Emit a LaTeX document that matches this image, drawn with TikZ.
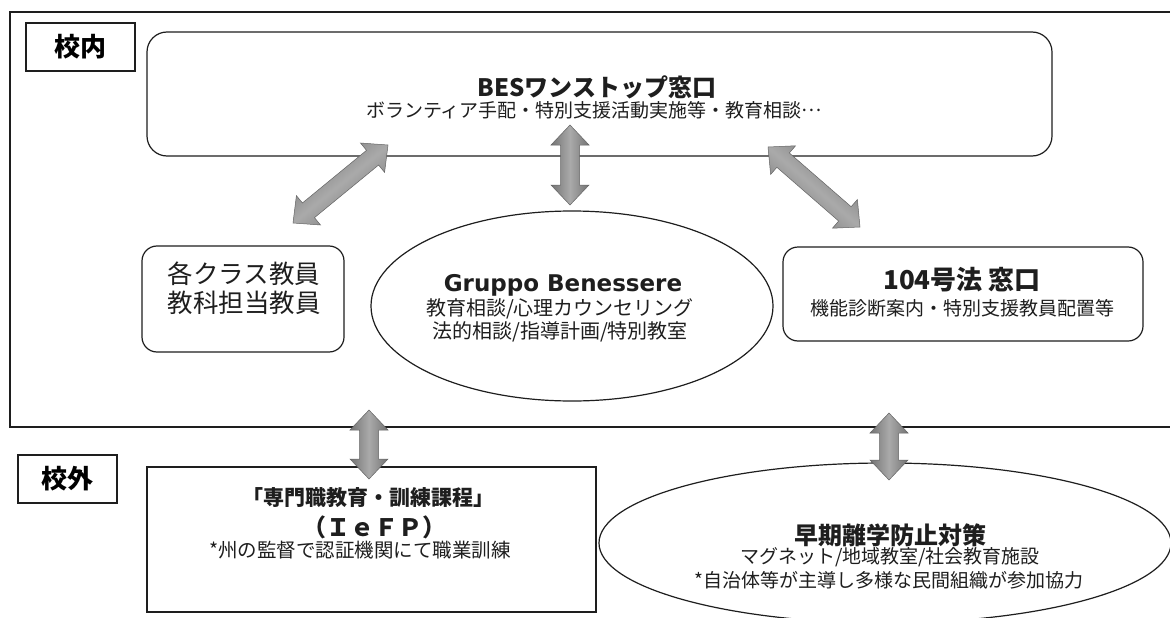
\documentclass[tikz,border=0pt]{standalone}
\usepackage{fontspec}
\setmainfont{Noto Sans CJK JP}
\newfontfamily\latinfont{DejaVu Sans}
\usetikzlibrary{calc,shapes.geometric}
\definecolor{arredge}{RGB}{115,115,115}
\definecolor{arrmid}{RGB}{170,170,170}
\definecolor{arrline}{RGB}{100,100,100}
\definecolor{ink}{RGB}{30,30,30}
\newcommand\dblarrow[3]{%
  \path[arrowshade, shading angle=#3]
    (#1) -- ($(#1)!20pt!(#2)!19pt!90:(#2)$) -- ($(#1)!20pt!(#2)!9.5pt!90:(#2)$)
    -- ($(#2)!20pt!(#1)!9.5pt!-90:(#1)$) -- ($(#2)!20pt!(#1)!19pt!-90:(#1)$)
    -- (#2) -- ($(#2)!20pt!(#1)!19pt!90:(#1)$) -- ($(#2)!20pt!(#1)!9.5pt!90:(#1)$)
    -- ($(#1)!20pt!(#2)!9.5pt!-90:(#2)$) -- ($(#1)!20pt!(#2)!19pt!-90:(#2)$) -- cycle;}
\begin{document}
\begin{tikzpicture}[x=1pt,y=-1pt,
  frameline/.style={draw=ink, line width=1.5pt},
  tagbox/.style={draw=ink, line width=1.4pt, rectangle, inner sep=0pt,
    font=\fontsize{26}{30}\selectfont\bfseries},
  rbox/.style={draw=ink, line width=1.2pt, rectangle, inner sep=0pt},
  sqbox/.style={draw=ink, line width=1.2pt, rectangle, inner sep=0pt},
  oval/.style={draw=ink, line width=1.2pt, ellipse, inner sep=0pt},
  txt/.style={inner sep=0pt, align=center, text=ink},
  arrowshade/.style={draw=arrline, line width=0.5pt, left color=arredge,
    right color=arredge, middle color=arrmid}]
\useasboundingbox (0,0) rectangle (1170,618);
\fill[white] (0,0) rectangle (1170,618);
% school-inside frame (cut off at the right edge)
\draw[frameline] (1190,12) -- (10,12) -- (10,427) -- (1190,427);

% tag boxes
\node[tagbox, minimum width=109pt, minimum height=48pt] (naibu) at (80.5,47) {校内};
\node[tagbox, minimum width=99pt, minimum height=48pt] (gaibu) at (67.5,479) {校外};

% BES one-stop
\node[rbox, rounded corners=20pt, minimum width=905pt, minimum height=124pt] (bes) at (599.5,94) {};
\node[txt, font=\fontsize{24}{28}\selectfont\bfseries] (bestitle) at (597,87) {BESワンストップ窓口};
\node[txt, font=\fontsize{19}{22}\selectfont] (bessub) at (594,110) {ボランティア手配・特別支援活動実施等・教育相談\raisebox{0.3em}{…}};

% class teachers
\node[rbox, rounded corners=15pt, minimum width=202pt, minimum height=106pt] (klass) at (243,299) {};
\node[txt, font=\fontsize{25.5}{29}\selectfont] (klass1) at (244,274) {各クラス教員};
\node[txt, font=\fontsize{25.5}{29}\selectfont] (klass2) at (244,303) {教科担当教員};

% Gruppo Benessere
\node[oval, minimum width=402pt, minimum height=190pt] (gruppo) at (572,306) {};
\node[txt, font=\fontsize{23}{27}\selectfont\latinfont\bfseries] (gruppot) at (563,285) {Gruppo Benessere};
\node[txt, font=\fontsize{20}{23}\selectfont] (gruppo1) at (560,309) {教育相談/心理カウンセリング};
\node[txt, font=\fontsize{20}{23}\selectfont] (gruppo2) at (560,332) {法的相談/指導計画/特別教室};

% Law 104 desk
\node[rbox, rounded corners=15pt, minimum width=360pt, minimum height=94pt] (law) at (963,294) {};
\node[txt, font=\fontsize{26}{30}\selectfont\bfseries] (lawt) at (962,280) {104号法 窓口};
\node[txt, font=\fontsize{19}{22}\selectfont] (laws) at (962,308) {機能診断案内・特別支援教員配置等};

% IeFP
\node[sqbox, minimum width=449pt, minimum height=145pt] (iefp) at (371.5,539.5) {};
\node[txt, font=\fontsize{21}{25}\selectfont\bfseries] (iefp1) at (368,498) {「専門職教育・訓練課程」};
\node[txt, font=\fontsize{24}{28}\selectfont\bfseries] (iefp2) at (374,527) {（ＩｅＦＰ）};
\node[txt, font=\fontsize{19.5}{23}\selectfont] (iefp3) at (360,550) {*州の監督で認証機関にて職業訓練};

% early school leaving
\node[oval, minimum width=572pt, minimum height=160pt] (soki) at (885,543) {};
\node[txt, font=\fontsize{24}{28}\selectfont\bfseries] (sokit) at (890,535) {早期離学防止対策};
\node[txt, font=\fontsize{19}{22}\selectfont] (soki1) at (890,557) {マグネット/地域教室/社会教育施設};
\node[txt, font=\fontsize{19}{22}\selectfont] (soki2) at (889,580) {*自治体等が主導し多様な民間組織が参加協力};

% arrow ends
\coordinate (aLa) at (388,145);
\coordinate (aLb) at (293,223);
\coordinate (aMa) at (570,125);
\coordinate (aMb) at (570,205);
\coordinate (aRa) at (768,147);
\coordinate (aRb) at (860,227);
\coordinate (bLa) at (369,410);
\coordinate (bLb) at (369,479);
\coordinate (bRa) at (889,413);
\coordinate (bRb) at (889,480);

\dblarrow{aLa}{aLb}{39}
\dblarrow{aMa}{aMb}{90}
\dblarrow{aRa}{aRb}{-41}
\dblarrow{bLa}{bLb}{90}
\dblarrow{bRa}{bRb}{90}
\end{tikzpicture}
\end{document}
